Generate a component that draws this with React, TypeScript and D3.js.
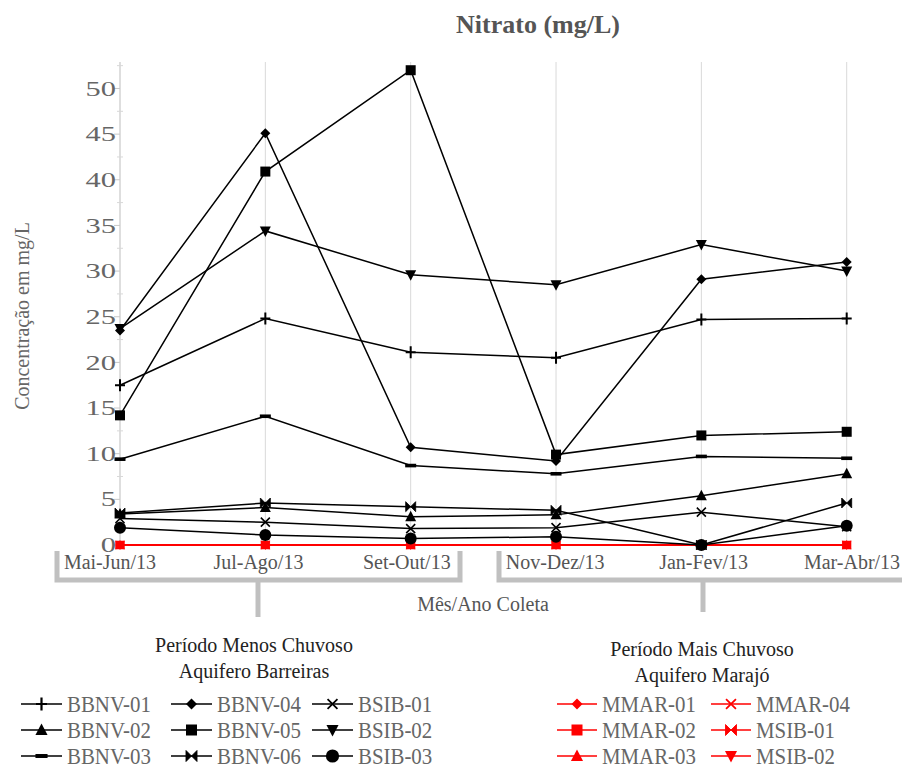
import React from "react";
import * as d3 from "d3";

// Collection periods (x categories)
const categories = ["Mai-Jun/13", "Jul-Ago/13", "Set-Out/13", "Nov-Dez/13", "Jan-Fev/13", "Mar-Abr/13"];

// Nitrate concentration (mg/L) per well, Aquífero Barreiras
const bbnv01 = [17.5, 24.8, 21.1, 20.5, 24.7, 24.8];
const bbnv02 = [3.4, 4.1, 3.1, 3.3, 5.4, 7.8];
const bbnv03 = [9.4, 14.1, 8.7, 7.8, 9.7, 9.5];
const bbnv04 = [23.5, 45.1, 10.7, 9.2, 29.1, 31.0];
const bbnv05 = [14.2, 40.9, 52.0, 9.9, 12.0, 12.4];
const bbnv06 = [3.5, 4.6, 4.2, 3.8, 0, 4.6];
const bsib01 = [2.9, 2.5, 1.8, 1.9, 3.6, 2.0];
const bsib02 = [23.7, 34.4, 29.6, 28.5, 32.9, 30.0];
const bsib03 = [1.9, 1.1, 0.7, 0.9, 0, 2.1];

// Nitrate concentration (mg/L) per well, Aquífero Marajó
const mmar01 = [0, 0, 0, 0, 0, 0];
const mmar02 = [0, 0, 0, 0, 0, 0];
const mmar03 = [0, 0, 0, 0, 0, 0];
const mmar04 = [0, 0, 0, 0, 0, 0];
const msib01 = [0, 0, 0, 0, 0, 0];
const msib02 = [0, 0, 0, 0, 0, 0];

const yMajorTicks = [0, 5, 10, 15, 20, 25, 30, 35, 40, 45, 50];
const yMinorTicks = [2.5, 7.5, 12.5, 17.5, 22.5, 27.5, 32.5, 37.5, 42.5, 47.5, 52.5];

type Shape = "plus" | "triangle" | "dash" | "diamond" | "square" | "bowtie" | "x" | "triangleDown" | "circle";

const BLACK = "#000";
const RED = "#ff0000";

const barreiras: { name: string; values: number[]; shape: Shape }[] = [
  { name: "BBNV-01", values: bbnv01, shape: "plus" },
  { name: "BBNV-02", values: bbnv02, shape: "triangle" },
  { name: "BBNV-03", values: bbnv03, shape: "dash" },
  { name: "BBNV-04", values: bbnv04, shape: "diamond" },
  { name: "BBNV-05", values: bbnv05, shape: "square" },
  { name: "BBNV-06", values: bbnv06, shape: "bowtie" },
  { name: "BSIB-01", values: bsib01, shape: "x" },
  { name: "BSIB-02", values: bsib02, shape: "triangleDown" },
  { name: "BSIB-03", values: bsib03, shape: "circle" },
];

const marajo: { name: string; values: number[]; shape: Shape }[] = [
  { name: "MMAR-01", values: mmar01, shape: "diamond" },
  { name: "MMAR-03", values: mmar03, shape: "triangle" },
  { name: "MMAR-04", values: mmar04, shape: "x" },
  { name: "MSIB-01", values: msib01, shape: "bowtie" },
  { name: "MSIB-02", values: msib02, shape: "triangleDown" },
  { name: "MMAR-02", values: mmar02, shape: "square" },
];

const FONT = '"Liberation Serif", "DejaVu Serif", "Times New Roman", serif';

function Marker({ shape, x, y, color, k = 1 }: { shape: Shape; x: number; y: number; color: string; k?: number }) {
  const t = `translate(${x},${y}) scale(${k})`;
  switch (shape) {
    case "plus":
      return <path transform={t} d="M-5,0H5M0,-6V6" stroke={color} strokeWidth={2} fill="none" />;
    case "x":
      return <path transform={t} d="M-4.5,-4.5L4.5,4.5M-4.5,4.5L4.5,-4.5" stroke={color} strokeWidth={1.6} fill="none" />;
    case "dash":
      return <rect transform={t} x={-5.5} y={-1.8} width={11} height={3.6} fill={color} />;
    case "square":
      return <rect transform={t} x={-5} y={-5} width={10} height={10} fill={color} />;
    case "diamond":
      return <path transform={t} d="M0,-5L5,0L0,5L-5,0Z" fill={color} />;
    case "triangle":
      return <path transform={t} d="M0,-6L5.5,4.5L-5.5,4.5Z" fill={color} />;
    case "triangleDown":
      return <path transform={t} d="M0,6L5.5,-4.5L-5.5,-4.5Z" fill={color} />;
    case "bowtie":
      return <path transform={t} d="M-5,-5L0,0L-5,5ZM5,-5L0,0L5,5Z" fill={color} stroke={color} strokeWidth={0.8} />;
    case "circle":
      return <circle transform={t} r={6} fill={color} />;
  }
}

export default function App() {
  const W = 902;
  const H = 769;

  const x = d3.scalePoint<string>().domain(categories).range([120, 846.7]);
  // category labels sit on their own, slightly wider spacing
  const xLabel = d3.scalePoint<string>().domain(categories).range([110, 852]);
  const y = d3.scaleLinear().domain([0, 52.9]).range([545, 62]);

  const line = d3
    .line<number>()
    .x((_, i) => x(categories[i]) as number)
    .y((v) => y(v));

  const gridTop = y(52.9);
  const gridBottom = y(0);

  const leftLegend = [
    { col: 0, items: [barreiras[0], barreiras[1], barreiras[2]] },
    { col: 1, items: [barreiras[3], barreiras[4], barreiras[5]] },
    { col: 2, items: [barreiras[6], barreiras[7], barreiras[8]] },
  ];
  const leftTextX = [67, 217, 358];
  const rightLegendCols = [
    [marajo[0], marajo[5], marajo[1]],
    [marajo[2], marajo[3], marajo[4]],
  ];
  const rightTextX = [602, 756];
  const rowY = [704, 730, 756];

  return (
    <svg
      width={W}
      height={H}
      style={{ position: "absolute", left: 0, top: 0, background: "#fff", fontFamily: FONT }}
    >
      {/* Title */}
      <text x={538} y={33} textAnchor="middle" fontSize={26} fontWeight="bold" fill="#555">
        Nitrato (mg/L)
      </text>

      {/* Vertical grid lines at each collection period */}
      {categories.map((c) => (
        <line key={c} x1={x(c)} x2={x(c)} y1={gridTop} y2={gridBottom} stroke="#d9d9d9" strokeWidth={1} />
      ))}

      {/* Y axis */}
      <line x1={120} x2={120} y1={gridTop} y2={gridBottom} stroke="#d0d0d0" strokeWidth={1} />
      {yMajorTicks.map((t) => (
        <g key={t}>
          <line x1={114} x2={120} y1={y(t)} y2={y(t)} stroke="#c8c8c8" strokeWidth={1} />
          <text
            transform={`translate(116,${y(t)}) scale(1.45,1)`}
            dy="0.34em"
            textAnchor="end"
            fontSize={21}
            fill="#666"
          >
            {t}
          </text>
        </g>
      ))}
      {yMinorTicks.map((t) => (
        <line key={t} x1={117} x2={123} y1={y(t)} y2={y(t)} stroke="#d8d8d8" strokeWidth={1} />
      ))}
      <text transform={`translate(29,316) rotate(-90)`} textAnchor="middle" fontSize={20} fill="#666">
        Concentração em mg/L
      </text>

      {/* Marajó series (drawn beneath) */}
      {marajo.map((s) => (
        <g key={s.name}>
          <path d={line(s.values) ?? ""} fill="none" stroke={RED} strokeWidth={1.3} />
          {s.values.map((v, i) => (
            <Marker key={i} shape={s.shape} x={x(categories[i]) as number} y={y(v)} color={RED} k={0.85} />
          ))}
        </g>
      ))}

      {/* Barreiras series */}
      {barreiras.map((s) => (
        <g key={s.name}>
          <path d={line(s.values) ?? ""} fill="none" stroke={BLACK} strokeWidth={1.5} />
          {s.values.map((v, i) => (
            <Marker key={i} shape={s.shape} x={x(categories[i]) as number} y={y(v)} color={BLACK} />
          ))}
        </g>
      ))}

      {/* X axis category labels */}
      {categories.map((c) => (
        <text key={c} x={xLabel(c)} y={569} textAnchor="middle" fontSize={20} fill="#555">
          {c}
        </text>
      ))}

      {/* Period brackets */}
      <path d="M57,551V580H460V551" fill="none" stroke="#c0c0c0" strokeWidth={5} />
      <path d="M258,580V617" fill="none" stroke="#c0c0c0" strokeWidth={5} />
      <path d="M499,551V580H910" fill="none" stroke="#c0c0c0" strokeWidth={5} />
      <path d="M703,580V612" fill="none" stroke="#c0c0c0" strokeWidth={5} />

      <text x={483} y={611} textAnchor="middle" fontSize={20} fill="#555">
        Mês/Ano Coleta
      </text>

      {/* Legend: Barreiras */}
      <text x={254} y={652} textAnchor="middle" fontSize={20} fill="#222">
        Período Menos Chuvoso
      </text>
      <text x={254} y={678} textAnchor="middle" fontSize={20} fill="#222">
        Aquifero Barreiras
      </text>
      {leftLegend.map((col) =>
        col.items.map((s, r) => {
          const tx = leftTextX[col.col];
          const cy = rowY[r];
          return (
            <g key={s.name}>
              <line x1={tx - 46} x2={tx - 5} y1={cy} y2={cy} stroke={BLACK} strokeWidth={1.5} />
              <Marker shape={s.shape} x={tx - 25.5} y={cy} color={BLACK} k={1.1} />
              <text transform={`translate(${tx},${cy}) scale(0.87,1)`} dy="0.34em" fontSize={24} fill="#666">
                {s.name}
              </text>
            </g>
          );
        })
      )}

      {/* Legend: Marajó */}
      <text x={702} y={656} textAnchor="middle" fontSize={20} fill="#222">
        Período Mais Chuvoso
      </text>
      <text x={702} y={682} textAnchor="middle" fontSize={20} fill="#222">
        Aquifero Marajó
      </text>
      {rightLegendCols.map((col, ci) =>
        col.map((s, r) => {
          const tx = rightTextX[ci];
          const cy = rowY[r];
          return (
            <g key={s.name}>
              <line x1={tx - 45} x2={tx - 5} y1={cy} y2={cy} stroke={RED} strokeWidth={1.5} />
              <Marker shape={s.shape} x={tx - 25} y={cy} color={RED} k={1.1} />
              <text transform={`translate(${tx},${cy}) scale(0.87,1)`} dy="0.34em" fontSize={24} fill="#666">
                {s.name}
              </text>
            </g>
          );
        })
      )}
    </svg>
  );
}
